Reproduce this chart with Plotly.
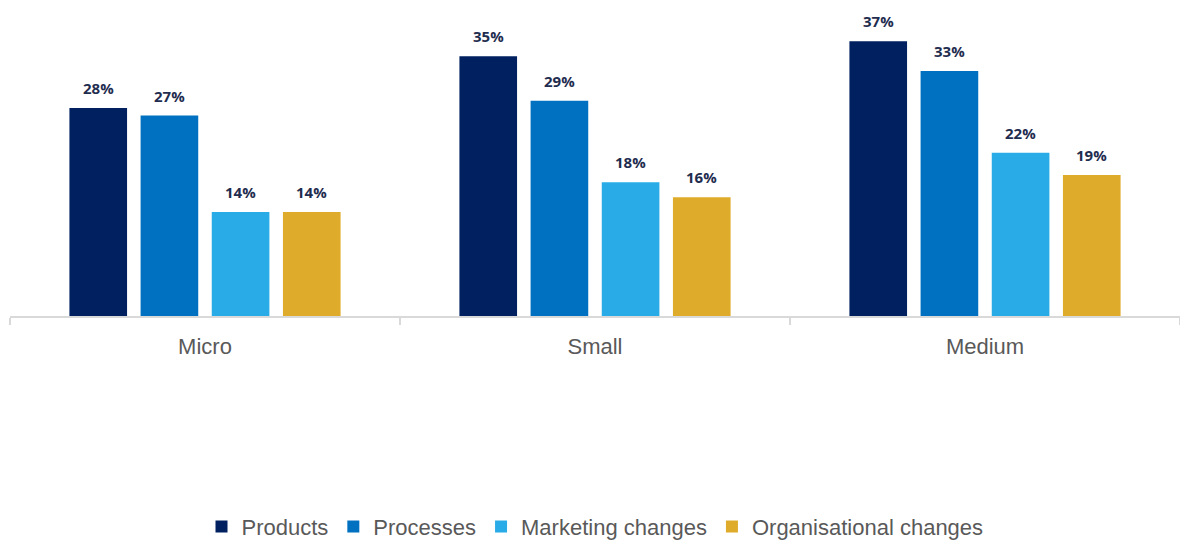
import plotly.graph_objects as go

categories = ["Micro", "Small", "Medium"]
series_names = ["Products", "Processes", "Marketing changes", "Organisational changes"]
products = [28, 35, 37]
processes = [27, 29, 33]
marketing = [14, 18, 22]
organisational = [14, 16, 19]
colors = ["#002060", "#0070C0", "#29ABE7", "#DFAB2B"]

values = [products, processes, marketing, organisational]
bargap = 0.27
n = len(values)

fig = go.Figure()
for name, vals, col in zip(series_names, values, colors):
    fig.add_trace(go.Bar(name=name, x=categories, y=vals,
                         marker=dict(color=col, line=dict(width=0)),
                         hoverinfo="skip"))

slot = (1 - bargap) / n
for j, vals in enumerate(values):
    for i, v in enumerate(vals):
        fig.add_annotation(x=i + (j - (n - 1) / 2) * slot, y=v, text=f"{v}%",
                           showarrow=False, yanchor="middle", yshift=20,
                           font=dict(family="Open Sans", size=15, color="#1F2D4F", weight="bold"))

fig.update_layout(
    barmode="group", bargap=bargap, bargroupgap=0.19,
    width=1180, height=543,
    margin=dict(l=10, r=0, t=19, b=227),
    paper_bgcolor="white", plot_bgcolor="white",
    font=dict(family="Liberation Sans", color="#595959"),
    xaxis=dict(type="category", tickson="boundaries", ticks="outside", ticklen=7,
               tickcolor="#D9D9D9", tickwidth=2, ticklabelstandoff=10,
               showline=True, linecolor="#D9D9D9", linewidth=2, showgrid=False,
               tickfont=dict(family="Liberation Sans", size=22, color="#595959"), range=[-0.5, 2.5]),
    yaxis=dict(range=[0, 40], visible=False, showgrid=False, zeroline=False),
    legend=dict(orientation="h", yref="container", y=0.03, yanchor="middle",
                x=0.5, xanchor="center", font=dict(family="Liberation Sans", size=22, color="#595959"),
                itemwidth=30, traceorder="normal"),
    showlegend=True,
)

fig.write_html("out.html", config={"displayModeBar": False},
               post_script="document.body.style.margin='0';")
